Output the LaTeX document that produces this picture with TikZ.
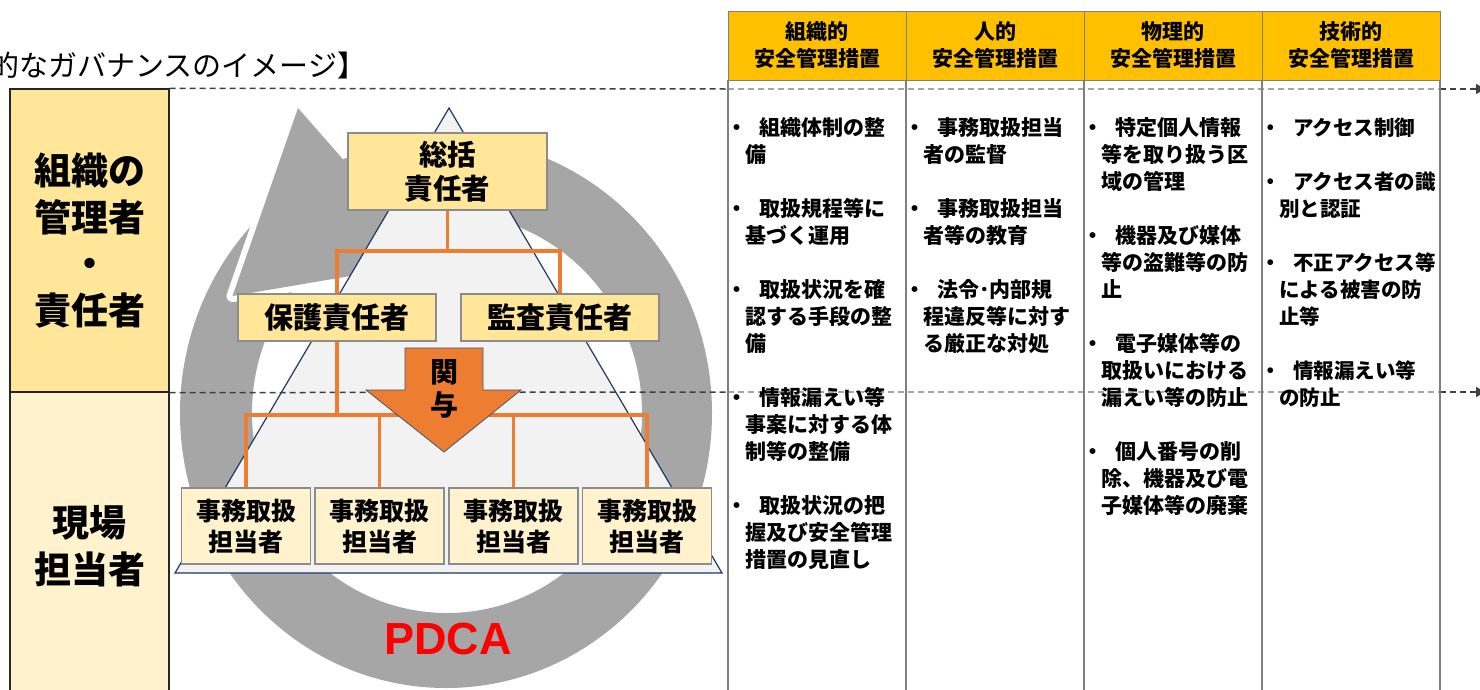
\documentclass[tikz,border=0pt]{standalone}
\usepackage{fontspec}
\setmainfont{Noto Sans CJK JP}
\newfontfamily\latinfont{Liberation Sans}
\usetikzlibrary{arrows.meta,calc}
\definecolor{lblA}{HTML}{FFE699}
\definecolor{lblB}{HTML}{FFF2CC}
\definecolor{hdrfill}{HTML}{FFC000}
\definecolor{orangeA}{HTML}{ED7D31}
\definecolor{ringgray}{HTML}{A6A6A6}
\definecolor{pyrfill}{HTML}{F2F2F2}
\definecolor{pyrline}{HTML}{203864}
\definecolor{boxline}{HTML}{8C8C8C}
\definecolor{tline}{HTML}{7F7F7F}
\definecolor{dashdk}{HTML}{404040}
\definecolor{dashlt}{HTML}{A6A6A6}
\definecolor{pdcared}{HTML}{FF0000}
\definecolor{arrline}{HTML}{41566E}
\newcommand{\bul}{\hspace*{-18.5pt}\makebox[32.5pt][l]{\rule{0pt}{18pt}・}}
\begin{document}
\begin{tikzpicture}[x=1pt,y=-1pt,
 lbl/.style={draw=black!85,line width=1.3pt,inner sep=0pt,align=center,minimum width=159pt,font=\bfseries\fontsize{37}{46.5}\selectfont},
 orgbox/.style={draw=boxline,line width=1.5pt,inner sep=0pt,align=center},
 bossbox/.style={orgbox,fill=lblA,font=\bfseries\fontsize{29}{34}\selectfont},
 staffbox/.style={orgbox,fill=lblB,minimum width=129pt,minimum height=76pt,font=\bfseries\fontsize{25}{31}\selectfont},
 conn/.style={draw=orangeA,line width=3.5pt},
 hdr/.style={draw=tline,line width=1pt,fill=hdrfill,inner sep=0pt,align=center,minimum width=178pt,minimum height=69pt,font=\bfseries\fontsize{21}{27}\selectfont},
 coltext/.style={anchor=north west,inner sep=0pt,align=left,font=\bfseries\fontsize{21}{27}\selectfont},
 dashdark/.style={draw=dashdk,line width=1.5pt,dash pattern=on 6pt off 4pt},
 dashlight/.style={draw=dashlt,line width=1.5pt,dash pattern=on 6pt off 4pt},
]
\useasboundingbox (0,0) rectangle (1480,689);

% title (cut at the left edge, as in the reference)
\node[anchor=west,inner sep=0pt,font=\fontsize{29}{29}\selectfont] (title) at (-10,65) {的なガバナンスのイメージ】};

% left labels
\node[lbl,fill=lblA,minimum height=303pt] (mgr) at (89.5,240.5) {組織の\\管理者\\・\\責任者};
\node[lbl,fill=lblB,minimum height=308pt] (staff) at (89.5,546) {現場\\担当者};

% PDCA ring
\fill[ringgray,even odd rule] (446,413) ellipse [x radius=266pt, y radius=275pt]
      (447,413) ellipse [x radius=195pt, y radius=200pt];
\coordinate (ahT) at (298,108);
\coordinate (ahL) at (232.5,296);
\coordinate (ahR) at (433,262);
\draw[white,line width=12pt,line join=round] (ahT) -- (ahL) -- (ahR);
\fill[ringgray] (ahT) -- (ahL) -- (ahR) -- cycle;

% pyramid
\filldraw[fill=pyrfill,draw=pyrline,line width=1.2pt] (449,108) -- (722,573) -- (175,573) -- cycle;

% dashed guide lines
\draw[dashdark] (mgr.north east) -- (728,89);
\draw[dashlight] (728,89) -- (1440,89);
\draw[dashdark,-{Triangle[length=9pt,width=10pt]}] (1440,89) -- (1485,89);
\draw[dashdark] (mgr.south east) -- (728,392);
\draw[dashlight] (728,392) -- (1440,392);
\draw[dashdark,-{Triangle[length=9pt,width=10pt]}] (1440,392) -- (1485,392);

% org boxes
\node[bossbox,minimum width=199pt,minimum height=77pt,font=\bfseries\fontsize{28.5}{34}\selectfont] (sok) at (447.5,171.5) {総括\\責任者};
\node[bossbox,minimum width=198pt,minimum height=47pt] (hogo) at (337,317.5) {保護責任者};
\node[bossbox,minimum width=198pt,minimum height=47pt] (kansa) at (560,317.5) {監査責任者};
\node[staffbox] (j1) at (246,526) {事務取扱\\担当者};
\node[staffbox] (j2) at (379.5,526) {事務取扱\\担当者};
\node[staffbox] (j3) at (513.5,526) {事務取扱\\担当者};
\node[staffbox] (j4) at (647,526) {事務取扱\\担当者};

% connectors
\coordinate (bar1) at (447.5,251);
\coordinate (bar2) at (337,415);
\draw[conn] (sok.south) -- (bar1);
\draw[conn] (hogo.north) |- (bar1) -| (kansa.north);
\draw[conn] (hogo.south) -- (bar2);
\draw[conn] (j1.north) |- (bar2) -| (j4.north);
\draw[conn] (j2.north) -- (j2.north |- bar2);
\draw[conn] (j3.north) -- (j3.north |- bar2);

% kanyo arrow
\filldraw[fill=orangeA,draw=arrline,line width=0.8pt] (405,348) -- (483,348) -- (483,390) -- (521,390) -- (444,452) -- (366,390) -- (405,390) -- cycle;
\node[align=center,inner sep=0pt,font=\bfseries\fontsize{28}{33}\selectfont] (kanyo) at (444,388.5) {関\\与};

% PDCA label
\node[text=pdcared,inner sep=0pt,font=\latinfont\bfseries\fontsize{45}{45}\selectfont] (pdca) at (448,639) {PDCA};

% table header
\node[hdr] (h1) at (817,45.5) {組織的\\安全管理措置};
\node[hdr] (h2) at (995,45.5) {人的\\安全管理措置};
\node[hdr] (h3) at (1173,45.5) {物理的\\安全管理措置};
\node[hdr] (h4) at (1351,45.5) {技術的\\安全管理措置};
\foreach \xx in {728,906,1084,1262,1440}
  \draw[tline,line width=1.2pt] (\xx,80) -- (\xx,695);

% table body
\node[coltext] (c1) at (745,116.8) {\bul 組織体制の整\\備\\[27pt]
\bul 取扱規程等に\\基づく運用\\[27pt]
\bul 取扱状況を確\\認する手段の整\\備\\[27pt]
\bul 情報漏えい等\\事案に対する体\\制等の整備\\[27pt]
\bul 取扱状況の把\\握及び安全管理\\措置の見直し};
\node[coltext] (c2) at (923,116.8) {\bul 事務取扱担当\\者の監督\\[27pt]
\bul 事務取扱担当\\者等の教育\\[27pt]
\bul 法令･内部規\\程違反等に対す\\る厳正な対処};
\node[coltext] (c3) at (1101,116.8) {\bul 特定個人情報\\等を取り扱う区\\域の管理\\[27pt]
\bul 機器及び媒体\\等の盗難等の防\\止\\[27pt]
\bul 電子媒体等の\\取扱いにおける\\漏えい等の防止\\[27pt]
\bul 個人番号の削\\除、機器及び電\\子媒体等の廃棄};
\node[coltext,font=\bfseries\fontsize{20.5}{27}\selectfont] (c4) at (1279,116.8) {\bul アクセス制御\\[27pt]
\bul アクセス者の識\\別と認証\\[27pt]
\bul 不正アクセス等\\による被害の防\\止等\\[27pt]
\bul 情報漏えい等\\の防止};
\end{tikzpicture}
\end{document}
